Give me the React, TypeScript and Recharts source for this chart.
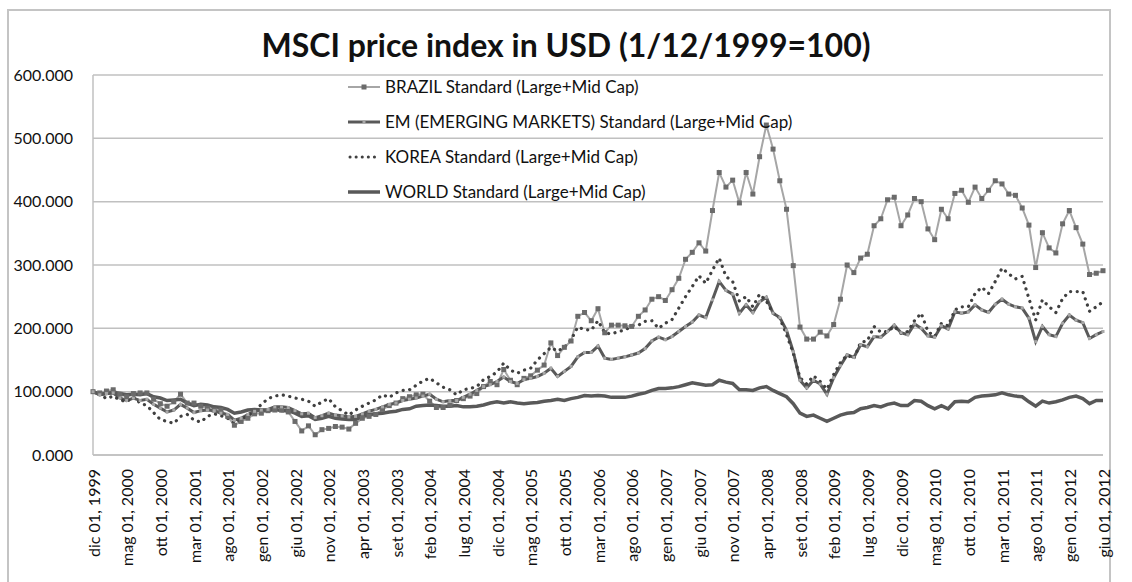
import React from "react";
import {
  CartesianGrid,
  Legend,
  Line,
  LineChart,
  XAxis,
  YAxis,
} from "recharts";

// Italian month abbreviations used on the category axis
const MONTHS = ["gen", "feb", "mar", "apr", "mag", "giu", "lug", "ago", "set", "ott", "nov", "dic"];

// dic 1999 .. giu 2012, monthly
const dates: string[] = [];
for (let i = 0; i < 151; i++) {
  const m = (11 + i) % 12;
  const y = 1999 + Math.floor((11 + i) / 12);
  dates.push(`${MONTHS[m]} 01, ${y}`);
}

const brazil = [
  100, 98, 101, 103, 96, 92, 97, 98, 98, 88,
  81, 77, 84, 96, 82, 82, 77, 74, 71, 71,
  61, 47, 53, 58, 65, 66, 70, 71, 71, 68,
  53, 38, 46, 32, 40, 42, 45, 44, 41, 50,
  58, 61, 64, 72, 78, 82, 89, 92, 95, 96,
  85, 75, 75, 79, 86, 89, 93, 97, 108, 116,
  111, 135, 118, 111, 121, 125, 134, 142, 177, 157,
  170, 180, 219, 225, 212, 231, 193, 205, 205, 204,
  203, 219, 229, 246, 250, 244, 261, 279, 309, 320,
  335, 322, 386, 446, 423, 434, 398, 446, 412, 471,
  521, 483, 433, 388, 299, 202, 183, 183, 194, 188,
  206, 246, 300, 288, 311, 317, 362, 373, 403, 407,
  362, 379, 405, 400, 357, 340, 388, 373, 413, 418,
  399, 423, 405, 418, 433, 428, 412, 410, 390, 363,
  296, 351, 327, 319, 365, 386, 359, 333, 285, 287,
  291,
];

const em = [
  100, 95, 97, 98, 90, 86, 90, 86, 88, 80,
  74, 68, 71, 80, 74, 67, 70, 71, 70, 66,
  64, 55, 58, 64, 69, 71, 72, 76, 76, 75,
  70, 65, 66, 59, 62, 66, 63, 62, 60, 61,
  65, 69, 72, 76, 80, 82, 86, 88, 90, 93,
  96, 88, 84, 86, 86, 91, 96, 102, 108, 111,
  116, 123, 116, 113, 119, 121, 124, 129, 137, 124,
  132, 140, 155, 162, 162, 172, 153, 151, 153, 155,
  158, 161, 168, 180, 186, 182, 187, 195, 203, 210,
  221, 217, 245, 274, 260, 254, 224, 237, 225, 242,
  249, 224, 217, 197, 163, 118, 106, 118, 112, 96,
  122, 141, 158, 154, 174, 171, 187, 186, 195, 205,
  193, 190, 207, 200, 188, 186, 204, 199, 226, 224,
  226, 237, 229, 225, 238, 246, 238, 234, 232, 216,
  179, 203, 190, 187, 208, 221, 213, 209, 184, 190,
  195,
];

const korea = [
  100, 96, 89, 93, 87, 84, 92, 82, 78, 67,
  56, 53, 50, 61, 64, 55, 52, 61, 65, 62,
  58, 50, 56, 62, 69, 80, 89, 93, 95, 93,
  90, 88, 85, 77, 84, 89, 76, 70, 63, 71,
  77, 82, 87, 95, 91, 98, 102, 103, 110, 117,
  121, 114, 107, 103, 95, 103, 105, 108, 119, 124,
  131, 145, 134, 129, 134, 137, 150, 160, 170, 164,
  170, 182, 202, 198, 197, 212, 193, 191, 195, 197,
  204, 205, 211, 212, 200, 208, 214, 232, 250, 266,
  283, 271, 292, 311, 282, 274, 243, 250, 234, 254,
  243, 224, 216, 190, 161, 122, 112, 125, 116, 104,
  127, 146, 158, 152, 178, 180, 203, 194, 195, 203,
  192, 195, 212, 224, 195, 187, 208, 204, 229, 234,
  234, 255, 265, 255, 274, 295, 286, 278, 282, 247,
  213, 245, 234, 225, 247, 258, 258, 258, 227, 234,
  242,
];

const world = [
  100, 96, 97, 99, 97, 95, 96, 95, 97, 92,
  90, 86, 87, 88, 82, 78, 80, 79, 76, 75,
  72, 66, 68, 71, 72, 71, 70, 72, 70, 70,
  66, 61, 62, 56, 58, 61, 58, 57, 56, 56,
  61, 64, 65, 66, 68, 69, 72, 73, 77, 78,
  79, 78, 77, 77, 78, 76, 76, 77, 79, 82,
  84, 82, 84, 82, 81, 82, 83, 85, 86, 88,
  86, 89, 91, 94, 93, 94, 93, 91, 91, 91,
  93, 96, 98, 102, 105, 105, 106, 108, 111, 114,
  112, 110, 111, 118, 115, 113, 103, 103, 102, 106,
  108, 102, 97, 92, 81, 66, 61, 63, 58, 53,
  58, 63, 66, 67, 73, 75, 78, 76, 80, 82,
  78, 78, 86, 85, 78, 73, 78, 73, 84, 85,
  84, 91, 93, 94, 95, 98, 95, 93, 92, 84,
  77, 85, 82, 84, 87, 91, 93, 89, 81, 86,
  86,
];

const yTicks = [0, 100, 200, 300, 400, 500, 600];

const names = {
  brazil: "BRAZIL Standard (Large+Mid Cap)",
  em: "EM (EMERGING MARKETS) Standard (Large+Mid Cap)",
  korea: "KOREA Standard (Large+Mid Cap)",
  world: "WORLD Standard (Large+Mid Cap)",
};

const data = dates.map((d, i) => ({
  date: d,
  brazil: brazil[i],
  em: em[i],
  korea: korea[i],
  world: world[i],
}));

const FONT = "Lato, 'Open Sans', sans-serif";

const BrazilDot = (p: any) => (
  <rect key={`b${p.index}`} x={p.cx - 2.5} y={p.cy - 2.5} width={5} height={5} fill="#6b6b6b" />
);
const EmDot = (p: any) => (
  <rect key={`e${p.index}`} x={p.cx - 1.5} y={p.cy - 1.5} width={3} height={3} fill="#a8a8a8" />
);

const XTick = (props: any) => {
  const { x, y, payload } = props;
  return (
    <text
      x={x}
      y={y}
      transform={`rotate(-90, ${x}, ${y})`}
      textAnchor="end"
      dominantBaseline="central"
      fontSize={16}
      fontFamily={FONT}
      fill="#111"
    >
      {payload.value}
    </text>
  );
};

const LegendBox = () => {
  const rows = [
    { key: "brazil", icon: (
      <g>
        <line x1={0} y1={6} x2={32} y2={6} stroke="#a6a6a6" strokeWidth={2} />
        <rect x={13.5} y={3.5} width={5} height={5} fill="#6b6b6b" />
      </g>
    ) },
    { key: "em", icon: (
      <g>
        <line x1={0} y1={6} x2={32} y2={6} stroke="#595959" strokeWidth={3} />
        <rect x={14.5} y={4.5} width={3} height={3} fill="#a8a8a8" />
      </g>
    ) },
    { key: "korea", icon: (
      <line x1={2} y1={6} x2={32} y2={6} stroke="#404040" strokeWidth={3}
        strokeDasharray="0.1 6" strokeLinecap="round" />
    ) },
    { key: "world", icon: (
      <line x1={0} y1={6} x2={32} y2={6} stroke="#595959" strokeWidth={3.5} />
    ) },
  ];
  return (
    <div style={{ fontFamily: FONT, fontSize: 17, color: "#111" }}>
      {rows.map((r) => (
        <div key={r.key} style={{ display: "flex", alignItems: "center", height: 35 }}>
          <svg width={35} height={12} style={{ marginRight: 2 }}>{r.icon}</svg>
          <span>{(names as any)[r.key]}</span>
        </div>
      ))}
    </div>
  );
};

export default function App() {
  return (
    <div style={{ position: "absolute", left: 0, top: 0, width: 1132, height: 582, overflow: "hidden", background: "#fff" }}>
      <div style={{ position: "absolute", left: 7, top: 9, width: 1104, height: 620, border: "2px solid #c4c4c4", boxSizing: "border-box" }} />
      <div style={{ position: "absolute", left: 0, top: 26, width: 1132, textAlign: "center", fontFamily: FONT, fontWeight: 700, fontSize: 32, lineHeight: "38px", color: "#111" }}>
        MSCI price index in USD (1/12/1999=100)
      </div>
      <LineChart
        width={1132}
        height={582}
        data={data}
        margin={{ top: 75, right: 29, left: 13, bottom: 0 }}
        style={{ position: "absolute", left: 0, top: 0 }}
      >
        <CartesianGrid vertical={false} stroke="#c0c0c0" strokeWidth={1.5} />
        <XAxis
          dataKey="date"
          interval={4}
          height={127}
          tickLine={false}
          tickMargin={8}
          axisLine={{ stroke: "#c0c0c0", strokeWidth: 1.5 }}
          tick={<XTick />}
        />
        <YAxis
          width={80}
          domain={[0, 600]}
          ticks={yTicks}
          tickFormatter={(v: number) => v.toFixed(3)}
          tickLine={false}
          tickMargin={14}
          axisLine={{ stroke: "#c0c0c0", strokeWidth: 1.5 }}
          tick={{ fontSize: 16, fontFamily: FONT, fill: "#111" }}
        />
        <Legend
          layout="vertical"
          align="center"
          verticalAlign="middle"
          wrapperStyle={{ left: 348, top: 69, width: 520 }}
          content={<LegendBox />}
        />
        <Line type="linear" dataKey="brazil" name={names.brazil} stroke="#a6a6a6" strokeWidth={2}
          dot={BrazilDot} activeDot={false} isAnimationActive={false} />
        <Line type="linear" dataKey="em" name={names.em} stroke="#595959" strokeWidth={3}
          dot={EmDot} activeDot={false} isAnimationActive={false} />
        <Line type="linear" dataKey="korea" name={names.korea} stroke="#404040" strokeWidth={3.2}
          strokeDasharray="0.1 6.5" strokeLinecap="round" dot={false} activeDot={false} isAnimationActive={false} />
        <Line type="linear" dataKey="world" name={names.world} stroke="#595959" strokeWidth={3.5}
          dot={false} activeDot={false} isAnimationActive={false} />
      </LineChart>
    </div>
  );
}
